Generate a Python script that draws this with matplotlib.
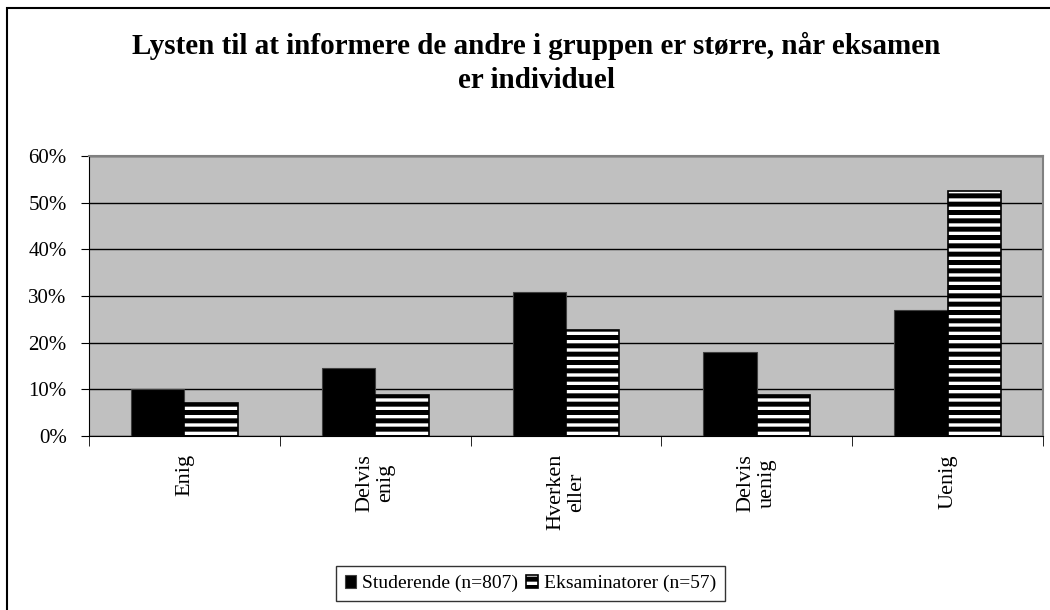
# %%
import numpy as np
import matplotlib.pyplot as plt
from matplotlib.patches import Rectangle

plt.rcParams['font.family'] = ['Liberation Serif', 'DejaVu Serif']
plt.rcParams['hatch.linewidth'] = 3.6

# %%
kategorier = ['Enig', 'Delvis\nenig', 'Hverken\neller', 'Delvis\nuenig', 'Uenig']
studerende = [10.0, 14.6, 30.8, 18.1, 27.0]
eksaminatorer = [7.0, 8.8, 22.8, 8.8, 52.6]
yticks = [0, 10, 20, 30, 40, 50, 60]

# %%
fig = plt.figure(figsize=(10.5, 6.1), dpi=100)
ax = fig.add_axes([89/1050, 174/610, 954/1050, 280/610])

x = np.arange(len(kategorier))
w = 0.28
ax.bar(x - w/2, studerende, w, color='black', edgecolor='#404040', lw=0.8,
       label='Studerende (n=807)', zorder=3)
ax.bar(x + w/2, eksaminatorer, w, color='white', edgecolor='black', lw=1.2,
       hatch='--', label='Eksaminatorer (n=57)', zorder=3)

ax.set_facecolor('#c0c0c0')
ax.set_xlim(-0.5, 4.5)
ax.set_ylim(0, 60)
ax.set_yticks(yticks)
ax.set_yticklabels([f'{t}%' for t in yticks], fontsize=15)
ax.yaxis.grid(True, color='black', lw=1)
ax.set_axisbelow(True)

ax.set_xticks(x)
ax.set_xticklabels(kategorier, rotation=90, va='top', ha='center', fontsize=16,
                   linespacing=1.15)
ax.tick_params(axis='x', which='major', length=0, pad=13)
ax.set_xticks(np.arange(-0.5, 5, 1), minor=True)
ax.tick_params(axis='x', which='minor', length=7, direction='out', color='black')
ax.tick_params(axis='y', length=6, direction='out', pad=10)

for s in ['top', 'right']:
    ax.spines[s].set_color('#808080')
    ax.spines[s].set_linewidth(1.5)
for s in ['left', 'bottom']:
    ax.spines[s].set_color('black')

fig.suptitle('Lysten til at informere de andre i gruppen er større, når eksamen\ner individuel',
             x=0.511, y=0.948, va='top', fontsize=21, fontweight='bold', linespacing=1.33)

leg = fig.legend(loc='center', bbox_to_anchor=(0.505, 0.043), ncol=2, fontsize=14,
                 handlelength=0.6, handleheight=0.6, handletextpad=0.3,
                 columnspacing=0.4, frameon=True, fancybox=False, borderpad=0.45)
leg.get_frame().set_edgecolor('black')
leg.get_frame().set_linewidth(1)

# ramme rundt om figuren
fig.add_artist(Rectangle((7/1050, -0.1), 1.2, (602/610) + 0.1, transform=fig.transFigure,
                         fill=False, edgecolor='black', lw=1.5))

fig.savefig('out.png', dpi=100)
